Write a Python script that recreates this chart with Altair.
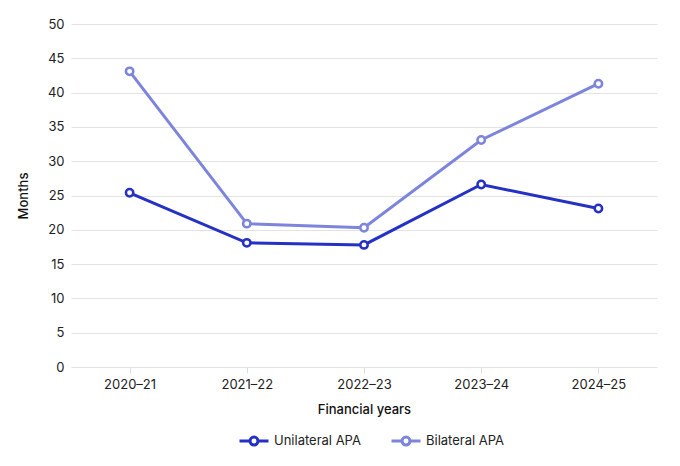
import altair as alt
import pandas as pd

years = ["2020–21", "2021–22", "2022–23", "2023–24", "2024–25"]
unilateral = [25.4, 18.1, 17.8, 26.6, 23.1]
bilateral = [43.1, 20.9, 20.3, 33.1, 41.3]
series = ["Unilateral APA", "Bilateral APA"]
colors = ["#2431c4", "#7c84dc"]

rows = []
for name, vals in zip(series, [unilateral, bilateral]):
    for y, v in zip(years, vals):
        rows.append({"Year": y, "Months": v, "Series": name})
df = pd.DataFrame(rows)

font = "Inter"
sym = "M-2,0H-0.55M0.55,0H2M-0.55,0A0.55,0.55,0,1,1,0.55,0A0.55,0.55,0,1,1,-0.55,0Z"

chart = alt.Chart(df).mark_line(
    strokeWidth=3,
    point=alt.OverlayMarkDef(filled=False, fill="white", size=55, strokeWidth=2.5, opacity=1),
).encode(
    x=alt.X("Year:N", sort=years, title="Financial years",
            scale=alt.Scale(type="point", padding=0.5),
            axis=alt.Axis(labelAngle=0, domain=False, ticks=True, tickColor="#dddddd",
                          tickSize=6, labelPadding=5, titlePadding=12,
                          labelFontSize=13, titleFontSize=13, titleFontWeight=500,
                          labelColor="#222222", titleColor="#111111")),
    y=alt.Y("Months:Q", title="Months",
            scale=alt.Scale(domain=[0, 50]),
            axis=alt.Axis(values=list(range(0, 51, 5)), domain=False, ticks=False,
                          labelPadding=7, titlePadding=17, gridColor="#e3e3e3",
                          labelFontSize=13, titleFontSize=13, titleFontWeight=500,
                          labelColor="#222222", titleColor="#111111")),
    color=alt.Color("Series:N", sort=series,
                    scale=alt.Scale(domain=series, range=colors),
                    legend=alt.Legend(orient="none", legendX=174, legendY=408,
                                      title=None, direction="horizontal",
                                      symbolType=sym, symbolSize=210, symbolStrokeWidth=3,
                                      symbolFillColor="white", labelOffset=11,
                                      labelFontSize=13, labelColor="#222222",
                                      columnPadding=24)),
).properties(width=586, height=343,
             padding={"left": 9, "top": 10, "right": 5, "bottom": 5})

chart = chart.configure(font=font).configure_view(stroke=None)
chart.save("out.html", embed_options={"renderer": "svg", "actions": False})
